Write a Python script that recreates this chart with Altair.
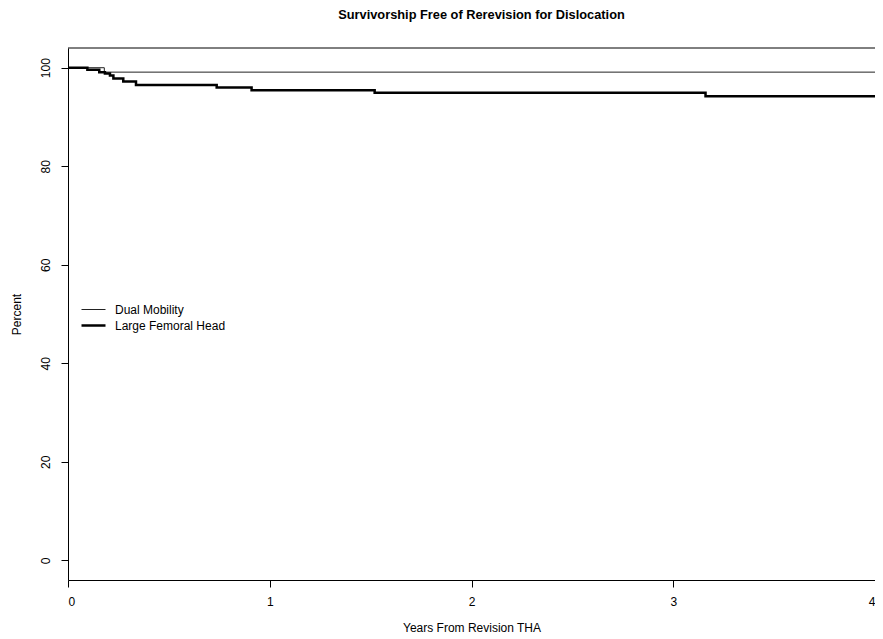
import altair as alt
import pandas as pd

# Kaplan-Meier estimates
series_names = ["Dual Mobility", "Large Femoral Head"]

dm_years = [0.0, 0.18, 4.0]
dm_pct = [100.0, 99.1, 99.1]

lfh_years = [0.0, 0.096, 0.155, 0.183, 0.208, 0.225, 0.274, 0.337, 0.737, 0.91, 1.52, 3.16, 4.0]
lfh_pct = [100.0, 99.6, 99.1, 98.8, 98.4, 97.8, 97.2, 96.5, 96.0, 95.4, 94.9, 94.2, 94.2]

x_ticks = [0, 1, 2, 3, 4]
y_ticks = [0, 20, 40, 60, 80, 100]

df = pd.concat([
    pd.DataFrame({"years": dm_years, "pct": dm_pct, "group": series_names[0]}),
    pd.DataFrame({"years": lfh_years, "pct": lfh_pct, "group": series_names[1]}),
])

FONT = "Liberation Sans"

x_scale = alt.Scale(domain=[0, 4.0], nice=False, zero=False)
y_scale = alt.Scale(domain=[-4, 104], nice=False, zero=False)

legend_kw = dict(title=None, orient="none", legendX=18, legendY=255,
                 symbolType="M-2,0H2", symbolSize=144,
                 labelFont=FONT, labelFontSize=12, labelColor="black",
                 labelOffset=14, rowPadding=2, padding=0)

lines = alt.Chart(df).mark_line(interpolate="step-after", strokeCap="butt").encode(
    x=alt.X("years:Q", scale=x_scale,
            axis=alt.Axis(values=x_ticks, title="Years From Revision THA", format="d",
                          labelPadding=9, titlePadding=15)),
    y=alt.Y("pct:Q", scale=y_scale,
            axis=alt.Axis(values=y_ticks, title="Percent", labelAngle=270,
                          labelAlign="center", labelBaseline="bottom",
                          labelPadding=9, titlePadding=16)),
    color=alt.Color("group:N", scale=alt.Scale(domain=series_names, range=["#222222", "#000000"]),
                    legend=alt.Legend(**legend_kw)),
    strokeWidth=alt.StrokeWidth("group:N", scale=alt.Scale(domain=series_names, range=[1.0, 2.5]),
                                legend=alt.Legend(**legend_kw)),
)

top_border = alt.Chart(pd.DataFrame({"y": [104]})).mark_rule(color="black", strokeWidth=1).encode(
    y=alt.Y("y:Q", scale=y_scale)
)

chart = alt.layer(lines, top_border).properties(
    width=807,
    height=532,
    autosize=alt.AutoSizeParams(type="none"),
    padding={"left": 60, "top": 40, "right": 0, "bottom": 58},
    title=alt.TitleParams("Survivorship Free of Rerevision for Dislocation", font=FONT,
                          fontSize=12.8, fontWeight="bold", color="black", offset=26, dx=10),
).configure_view(stroke=None).configure_axis(
    grid=False, domainColor="black", tickColor="black", labelColor="black", titleColor="black",
    tickSize=7, labelFont=FONT, labelFontSize=12, titleFont=FONT, titleFontSize=12,
    titleFontWeight="normal", domainWidth=1, tickWidth=1,
)

chart.save("out.html", embed_options={"renderer": "svg", "actions": False})
